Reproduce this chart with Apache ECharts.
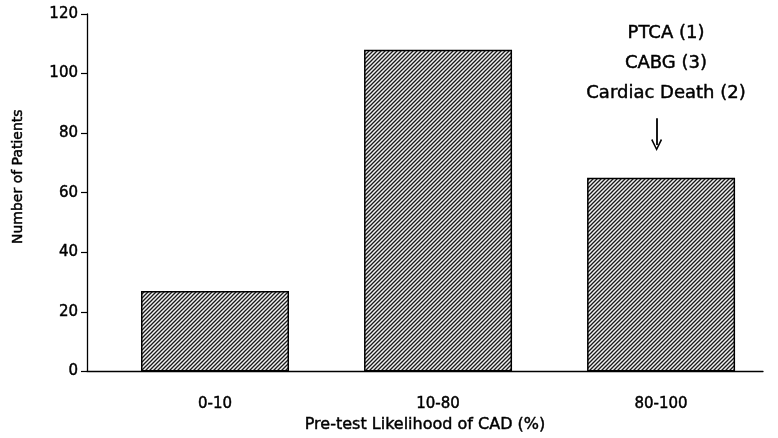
<!DOCTYPE html>
<html>
<head>
<meta charset="utf-8">
<script src="https://cdn.jsdelivr.net/npm/echarts@6/dist/echarts.min.js"></script>
<style>
  html, body { margin: 0; padding: 0; background: #fff; }
  #chart { width: 778px; height: 438px; }
</style>
</head>
<body>
<div id="chart"></div>
<script>
// Patients grouped by pre-test likelihood of coronary artery disease
const categories = ['0-10', '10-80', '80-100'];
const patients = [27, 108, 65];
const yTicks = [0, 20, 40, 60, 80, 100, 120];
// Events noted over the high-likelihood group
const outcomes = ['PTCA (1)', 'CABG (3)', 'Cardiac Death (2)'];
const arrowFrom = 85;
const arrowTo = 76;

const FONT = '"DejaVu Sans", "Liberation Sans", Arial, sans-serif';
const INK = '#000';
// thin outline of the same colour gives the print-like heavier strokes
const heavy = { textBorderColor: INK, textBorderWidth: 0.45 };

// Small tile with a "/" diagonal stroke, repeated to fill the bars
function hatchTile() {
  const c = document.createElement('canvas');
  c.width = 4; c.height = 4;
  const g = c.getContext('2d');
  g.fillStyle = '#f2f2f2';
  g.fillRect(0, 0, 4, 4);
  g.strokeStyle = '#1a1a1a';
  g.lineWidth = 1.3;
  g.beginPath();
  g.moveTo(-1, 5); g.lineTo(5, -1);
  g.moveTo(-1, 1); g.lineTo(1, -1);
  g.moveTo(3, 5); g.lineTo(5, 3);
  g.stroke();
  return c;
}

const chart = echarts.init(document.getElementById('chart'), null, { renderer: 'canvas' });

const annoX = 666;
chart.setOption({
  animation: false,
  backgroundColor: '#fff',
  grid: { left: 87, right: 15, top: 14, bottom: 63, containLabel: false },
  xAxis: {
    type: 'value',
    min: 0.426,
    max: 3.457,
    splitLine: { show: false },
    axisTick: { show: false },
    axisLine: { show: true, onZero: false, lineStyle: { color: INK, width: 1.3 } },
    axisLabel: Object.assign({
      customValues: categories.map((c, i) => i + 1),
      formatter: v => categories[Math.round(v) - 1],
      margin: 25,
      fontFamily: FONT,
      fontSize: 15,
      color: INK
    }, heavy),
    name: 'Pre-test Likelihood of CAD (%)',
    nameLocation: 'middle',
    nameGap: 40,
    nameTextStyle: Object.assign({ fontFamily: FONT, fontSize: 16, color: INK }, heavy)
  },
  yAxis: {
    type: 'value',
    min: yTicks[0],
    max: yTicks[yTicks.length - 1],
    interval: yTicks[1] - yTicks[0],
    splitLine: { show: false },
    axisLine: { show: true, lineStyle: { color: INK, width: 1.3 } },
    axisTick: { show: true, length: 6, lineStyle: { color: INK, width: 1.2 } },
    axisLabel: Object.assign({ margin: 9, fontFamily: FONT, fontSize: 15, color: INK }, heavy),
    name: 'Number of Patients',
    nameLocation: 'middle',
    nameGap: 62,
    nameTextStyle: Object.assign({ fontFamily: FONT, fontSize: 14, color: INK, padding: [0, 0, 0, 32] }, heavy)
  },
  series: [{
    type: 'bar',
    data: categories.map((c, i) => [i + 1, patients[i]]),
    barWidth: 148,
    itemStyle: {
      color: { image: hatchTile(), repeat: 'repeat' },
      borderColor: INK,
      borderWidth: 1.5
    },
    markLine: {
      silent: true,
      symbol: ['none', 'path://M0,10 L5,0 L10,10 L8.8,10.8 L5,3 L1.2,10.8 Z'],
      symbolSize: [11, 12],
      lineStyle: { color: INK, width: 1.8, type: 'solid' },
      label: { show: false },
      data: [[{ coord: [2.98, arrowFrom] }, { coord: [2.98, arrowTo] }]]
    }
  }],
  graphic: outcomes.map((t, i) => ({
    type: 'text',
    x: annoX,
    y: 33 + 30 * i,
    style: {
      text: t,
      font: '18px ' + FONT,
      fill: INK,
      stroke: INK,
      lineWidth: 0.45,
      align: 'center',
      verticalAlign: 'middle'
    }
  }))
});
</script>
</body>
</html>
